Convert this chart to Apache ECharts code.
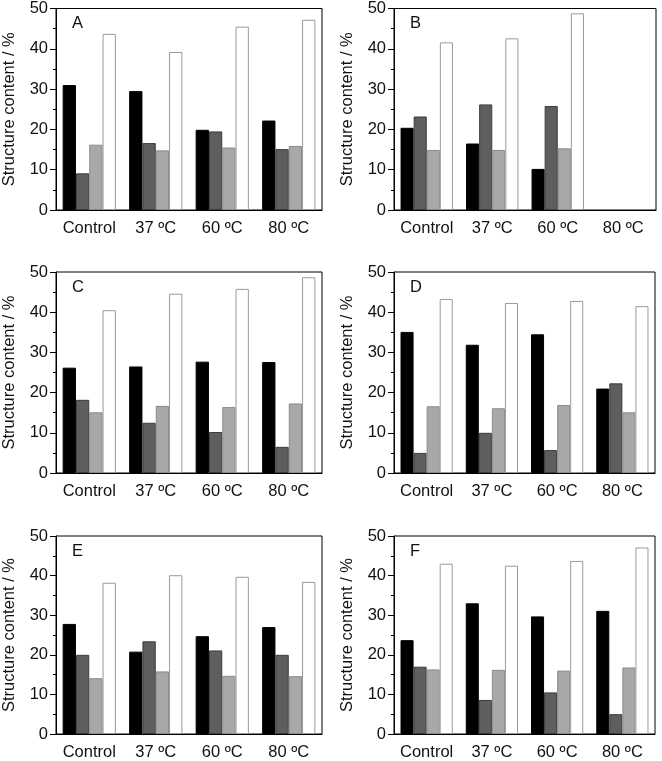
<!DOCTYPE html>
<html>
<head>
<meta charset="utf-8">
<script src="https://cdn.jsdelivr.net/npm/echarts@6/dist/echarts.min.js"></script>
<style>html,body{margin:0;padding:0;background:#fff}#c{width:662px;height:761px}</style>
</head>
<body>
<div id="c"></div>
<script>
const categories = ['Control', '37 ºC', '60 ºC', '80 ºC'];
const yTicks = [0, 10, 20, 30, 40, 50];
const panelLetters = ['A', 'B', 'C', 'D', 'E', 'F'];

// per panel: four structure series (black, dark grey, light grey, white)
const A_black = [31.0, 29.5, 19.9, 22.2];
const A_dgray = [9.1, 16.6, 19.5, 15.1];
const A_lgray = [16.2, 14.8, 15.5, 15.9];
const A_white = [43.7, 39.2, 45.5, 47.2];

const B_black = [20.4, 16.5, 10.2, null];
const B_dgray = [23.2, 26.2, 25.8, null];
const B_lgray = [14.9, 14.9, 15.3, null];
const B_white = [41.6, 42.6, 48.8, null];

const C_black = [26.2, 26.5, 27.7, 27.6];
const C_dgray = [18.2, 12.5, 10.2, 6.5];
const C_lgray = [15.1, 16.7, 16.4, 17.3];
const C_white = [40.5, 44.6, 45.8, 48.7];

const D_black = [35.1, 31.9, 34.5, 21.0];
const D_dgray = [5.0, 10.0, 5.7, 22.3];
const D_lgray = [16.6, 16.1, 16.9, 15.1];
const D_white = [43.3, 42.3, 42.8, 41.5];

const E_black = [27.8, 20.8, 24.7, 27.0];
const E_dgray = [20.0, 23.4, 21.1, 20.0];
const E_lgray = [14.1, 15.8, 14.7, 14.6];
const E_white = [38.2, 40.1, 39.7, 38.4];

const F_black = [23.7, 33.0, 29.7, 31.1];
const F_dgray = [17.0, 8.6, 10.5, 5.0];
const F_lgray = [16.3, 16.2, 16.0, 16.8];
const F_white = [43.0, 42.5, 43.7, 47.1];

const panels = [
  [A_black, A_dgray, A_lgray, A_white],
  [B_black, B_dgray, B_lgray, B_white],
  [C_black, C_dgray, C_lgray, C_white],
  [D_black, D_dgray, D_lgray, D_white],
  [E_black, E_dgray, E_lgray, E_white],
  [F_black, F_dgray, F_lgray, F_white]
];

const gridPos = [
  {left: 56, top: 8, width: 266, height: 202},
  {left: 394, top: 8, width: 262, height: 202},
  {left: 56, top: 272, width: 266, height: 201},
  {left: 394, top: 272, width: 261, height: 201},
  {left: 56, top: 536, width: 266, height: 201},
  {left: 394, top: 536, width: 261, height: 201}
];

const fills = ['#000000', '#5e5e5e', '#a8a8a8', '#ffffff'];
const borders = ['#000000', '#3c3c3c', '#8a8a8a', '#9a9a9a'];
const FONT = 'Liberation Sans, Arial, sans-serif';
const FS = 16.5;

const grids = [], xAxes = [], yAxes = [], series = [], graphics = [];
panels.forEach((p, i) => {
  const g = gridPos[i];
  grids.push(Object.assign({show: true, borderColor: '#000', borderWidth: 1, backgroundColor: 'transparent', containLabel: false}, g));
  xAxes.push({
    type: 'category', gridIndex: i, data: categories,
    axisLine: {lineStyle: {color: '#000', width: 1}},
    axisTick: {show: false},
    axisLabel: {color: '#111', fontFamily: FONT, fontSize: FS, margin: 10, interval: 0}
  });
  yAxes.push({
    type: 'value', gridIndex: i, min: 0, max: 50, interval: 10,
    name: 'Structure content / %', nameLocation: 'middle', nameGap: 38,
    nameTextStyle: {color: '#111', fontFamily: FONT, fontSize: FS},
    axisLine: {show: true, lineStyle: {color: '#000', width: 1}},
    axisTick: {show: true, inside: false, length: 6, lineStyle: {color: '#000'}},
    minorTick: {show: true, splitNumber: 2, length: 3, lineStyle: {color: '#000'}},
    splitLine: {show: false},
    axisLabel: {color: '#111', fontFamily: FONT, fontSize: FS, margin: 8,
      formatter: v => yTicks.indexOf(v) >= 0 ? String(v) : ''}
  });
  p.forEach((vals, k) => {
    series.push({
      type: 'bar', xAxisIndex: i, yAxisIndex: i, data: vals,
      barGap: '0%', barCategoryGap: '20%', silent: true,
      itemStyle: {color: fills[k], borderColor: borders[k], borderWidth: 1}
    });
  });
  graphics.push({
    type: 'text', left: g.left + 16, top: g.top + 7,
    style: {text: panelLetters[i], font: FS + 'px ' + FONT, fill: '#111'}
  });
});

const chart = echarts.init(document.getElementById('c'), null, {renderer: 'canvas'});
chart.setOption({
  animation: false,
  backgroundColor: '#fff',
  grid: grids, xAxis: xAxes, yAxis: yAxes, series: series, graphic: graphics
});
</script>
</body>
</html>
